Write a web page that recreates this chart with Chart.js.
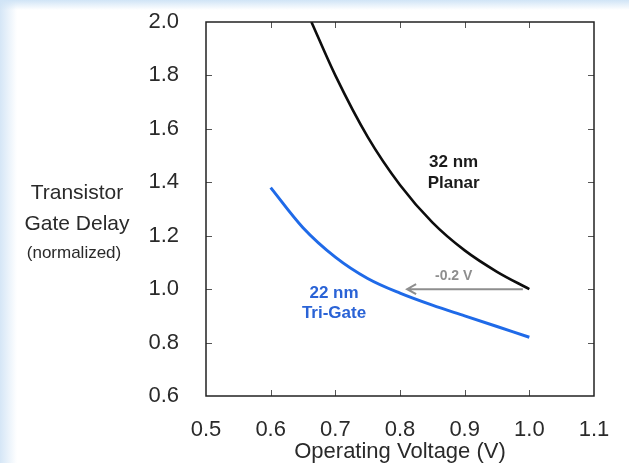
<!DOCTYPE html>
<html lang="en">
<head>
<meta charset="UTF-8">
<title>Transistor Gate Delay</title>
<script src="https://cdn.jsdelivr.net/npm/chart.js"></script>
<style>
  html, body { margin: 0; padding: 0; }
  body {
    width: 629px; height: 463px; overflow: hidden;
    background:
      linear-gradient(to bottom, rgba(208,228,246,1) 0px, rgba(255,255,255,0) 10px),
      linear-gradient(to right, #d5e6f6 0px, #ffffff 17px);
  }
  .chart-box { position: relative; width: 629px; height: 463px; }
</style>
</head>
<body>
<div class="chart-box">
  <canvas id="delayChart"></canvas>
</div>
<script>
// data
const voltage32 = [0.663, 0.70, 0.75, 0.80, 0.85, 0.90, 0.95, 1.00];
const delay32   = [2.00, 1.80, 1.57, 1.39, 1.25, 1.145, 1.065, 1.00];
const voltage22 = [0.60, 0.65, 0.70, 0.75, 0.80, 0.85, 0.90, 0.95, 1.00];
const delay22   = [1.38, 1.23, 1.12, 1.04, 0.985, 0.94, 0.90, 0.86, 0.82];
const xTickValues = [0.5, 0.6, 0.7, 0.8, 0.9, 1.0, 1.1];
const yTickValues = [0.6, 0.8, 1.0, 1.2, 1.4, 1.6, 1.8, 2.0];
const shiftFrom = 1.0;   // volts, 32 nm point
const shiftTo = 0.8;     // volts, same delay on 22 nm
const shiftText = '-0.2 V';

const FONT = '"Liberation Sans", Arial, sans-serif';

function pairs(xs, ys) {
  return xs.map((x, i) => ({ x: x, y: ys[i] }));
}

// text labels inside the plot, anchored in data units
const notes = [
  { text: '32 nm', x: 0.883, y: 1.474, color: '#1a1a1a' },
  { text: 'Planar', x: 0.883, y: 1.395, color: '#1a1a1a' },
  { text: '22 nm', x: 0.698, y: 0.986, color: '#2a63d6' },
  { text: 'Tri-Gate', x: 0.698, y: 0.911, color: '#2a63d6' }
];

const decorPlugin = {
  id: 'decor',
  afterDatasetsDraw(chart) {
    const c = chart.ctx;
    const xs = chart.scales.x, ys = chart.scales.y;
    const a = chart.chartArea;
    c.save();

    // inward tick marks
    c.strokeStyle = '#555';
    c.lineWidth = 1;
    c.beginPath();
    xTickValues.slice(1, -1).forEach(v => {
      const px = Math.round(xs.getPixelForValue(v)) + 0.5;
      c.moveTo(px, a.bottom); c.lineTo(px, a.bottom - 6);
      c.moveTo(px, a.top); c.lineTo(px, a.top + 6);
    });
    yTickValues.slice(1, -1).forEach(v => {
      const py = Math.round(ys.getPixelForValue(v)) + 0.5;
      c.moveTo(a.left, py); c.lineTo(a.left + 6, py);
      c.moveTo(a.right, py); c.lineTo(a.right - 6, py);
    });
    c.stroke();

    // frame
    c.strokeStyle = '#222';
    c.lineWidth = 1.5;
    c.strokeRect(a.left, a.top, a.right - a.left, a.bottom - a.top);

    // voltage shift arrow
    const ay = ys.getPixelForValue(1.0);
    const ax1 = xs.getPixelForValue(shiftFrom - 0.01);
    const ax2 = xs.getPixelForValue(shiftTo + 0.011);
    c.strokeStyle = '#8e8e8e';
    c.lineWidth = 2;
    c.beginPath();
    c.moveTo(ax1, ay); c.lineTo(ax2, ay);
    c.moveTo(ax2 + 9, ay - 5); c.lineTo(ax2, ay); c.lineTo(ax2 + 9, ay + 5);
    c.stroke();
    c.fillStyle = '#8e8e8e';
    c.font = 'bold 14px ' + FONT;
    c.textAlign = 'center';
    c.textBaseline = 'middle';
    c.fillText(shiftText, xs.getPixelForValue(0.883), ys.getPixelForValue(1.047));

    // series labels
    c.font = 'bold 17px ' + FONT;
    notes.forEach(n => {
      c.fillStyle = n.color;
      c.fillText(n.text, xs.getPixelForValue(n.x), ys.getPixelForValue(n.y));
    });

    // y axis title, horizontal lines at left
    c.fillStyle = '#2a2a2a';
    c.font = '21px ' + FONT;
    c.fillText('Transistor', 77, 193);
    c.fillText('Gate Delay', 77, 224);
    c.font = '17px ' + FONT;
    c.fillText('(normalized)', 74, 253);
    c.restore();
  }
};

function noEdgePadding(s) {
  s.paddingTop = 0; s.paddingBottom = 0;
  s.paddingLeft = 0; s.paddingRight = 0;
}

new Chart(document.getElementById('delayChart'), {
  type: 'line',
  data: {
    datasets: [
      {
        label: '32 nm Planar',
        data: pairs(voltage32, delay32),
        borderColor: '#0d0d0d',
        borderWidth: 2.6,
        pointRadius: 0,
        cubicInterpolationMode: 'monotone'
      },
      {
        label: '22 nm Tri-Gate',
        data: pairs(voltage22, delay22),
        borderColor: '#1f6ae8',
        borderWidth: 3,
        pointRadius: 0,
        cubicInterpolationMode: 'monotone'
      }
    ]
  },
  options: {
    responsive: true,
    maintainAspectRatio: false,
    animation: false,
    layout: { padding: { top: 22, right: 35, left: 0, bottom: 0 } },
    plugins: {
      legend: { display: false },
      tooltip: { enabled: false }
    },
    scales: {
      x: {
        type: 'linear',
        min: 0.5,
        max: 1.1,
        afterBuildTicks: s => { s.ticks = xTickValues.map(v => ({ value: v })); },
        afterFit: s => { s.height = 67; noEdgePadding(s); },
        grid: { display: false },
        border: { display: false },
        ticks: {
          padding: 13,
          color: '#2a2a2a',
          font: { family: FONT, size: 22 },
          callback: v => Number(v).toFixed(1)
        },
        title: {
          display: true,
          text: 'Operating Voltage (V)',
          color: '#2a2a2a',
          font: { family: FONT, size: 22, lineHeight: 1 },
          padding: { top: 0, bottom: 0 }
        }
      },
      y: {
        type: 'linear',
        min: 0.6,
        max: 2.0,
        afterBuildTicks: s => { s.ticks = yTickValues.map(v => ({ value: v })); },
        afterFit: s => { s.width = 206; noEdgePadding(s); },
        grid: { display: false },
        border: { display: false },
        ticks: {
          padding: 19,
          color: '#2a2a2a',
          font: { family: FONT, size: 22 },
          callback: v => Number(v).toFixed(1)
        }
      }
    }
  },
  plugins: [decorPlugin]
});
</script>
</body>
</html>
